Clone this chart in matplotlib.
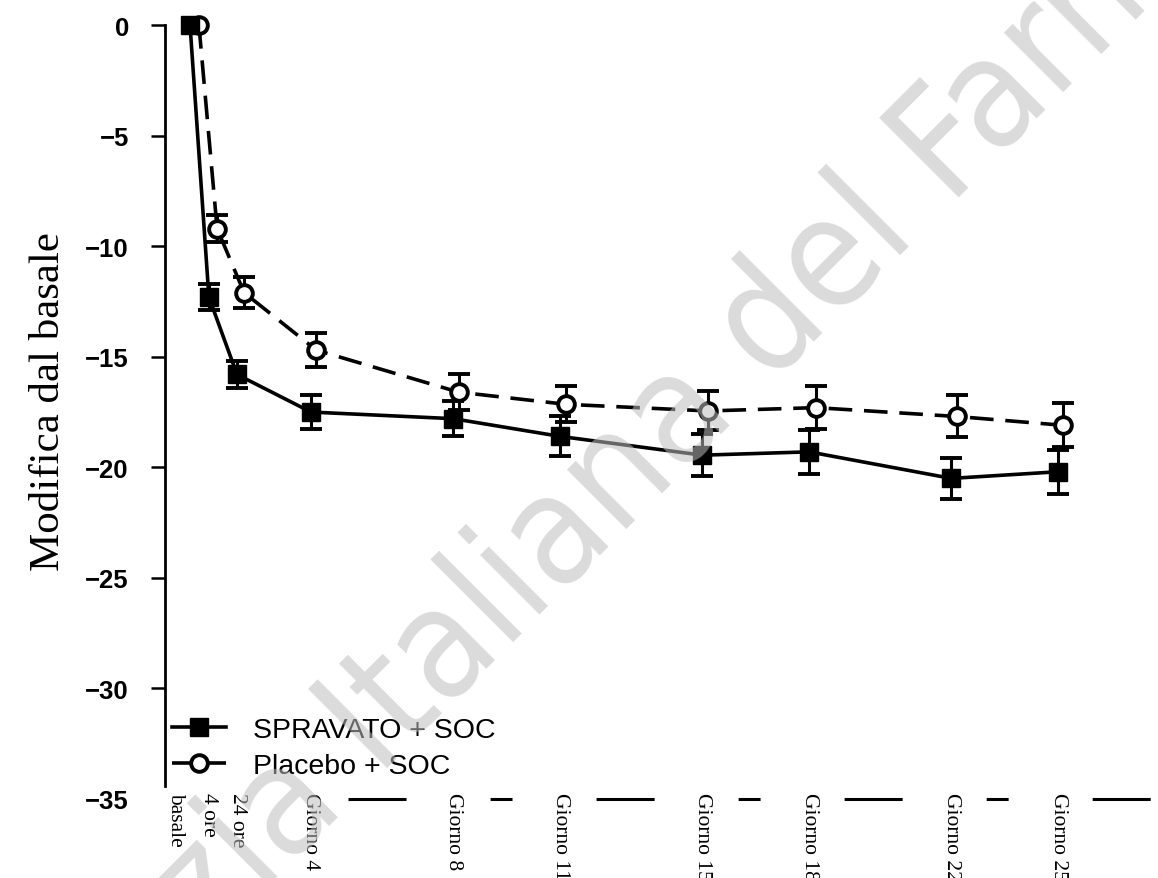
import numpy as np
import matplotlib.pyplot as plt
from matplotlib.transforms import ScaledTranslation

plt.rcParams['lines.scale_dashes'] = False

# visite (etichette asse x)
visite = ['basale', '4 ore', '24 ore', 'Giorno 4', 'Giorno 8', 'Giorno 11',
          'Giorno 15', 'Giorno 18', 'Giorno 22', 'Giorno 25']
# posizione delle visite sull'asse (giorni, le prime allargate come nel grafico)
x_spravato = [0.6, 1.13, 1.92, 4, 8, 11, 15, 18, 22, 25]
x_placebo = [0.85, 1.36, 2.12, 4.15, 8.15, 11.17, 15.17, 18.2, 22.15, 25.15]

# modifica media dal basale e errore standard
spravato = [0, -12.3, -15.8, -17.5, -17.8, -18.6, -19.45, -19.3, -20.5, -20.2]
spravato_se = [0, 0.6, 0.6, 0.75, 0.8, 0.9, 0.95, 1.0, 0.93, 1.0]
placebo = [0, -9.2, -12.1, -14.7, -16.6, -17.15, -17.45, -17.3, -17.7, -18.1]
placebo_se = [0, 0.6, 0.7, 0.77, 0.8, 0.82, 0.88, 0.96, 0.95, 1.0]

y_ticks = [-35, -30, -25, -20, -15, -10, -5, 0]

W, H = 1158, 879
fig = plt.figure(figsize=(W / 100, H / 100), dpi=100)
ax = fig.add_axes([165 / W, 79 / H, 993 / W, 796 / H])

# placebo: barre di errore sotto, poi linea tratteggiata con cerchi vuoti
ax.errorbar(x_placebo[1:], placebo[1:], yerr=placebo_se[1:], fmt='none', ecolor='k',
            elinewidth=2.2, capsize=8, capthick=2.8, zorder=2)
h_plac, = ax.plot(x_placebo, placebo, color='k', lw=2.6, dashes=(17, 8.5),
                  marker='o', ms=12, mfc='white', mec='k', mew=2.8, zorder=3,
                  label='Placebo + SOC')

ax.errorbar(x_spravato[1:], spravato[1:], yerr=spravato_se[1:], fmt='none', ecolor='k',
            elinewidth=2.2, capsize=8, capthick=2.8, zorder=4)
h_sprav, = ax.plot(x_spravato, spravato, color='k', lw=2.6, marker='s', ms=13.5,
                   mfc='k', mec='k', zorder=5, label='SPRAVATO + SOC')

ax.set_xlim(-0.104, 27.81)
ax.set_ylim(-35, 1)

# assi
for s in ['top', 'right', 'bottom']:
    ax.spines[s].set_visible(False)
ax.spines['left'].set_linewidth(2)
ax.spines['left'].set_bounds(-34.4, 0)

ax.set_yticks(y_ticks)
ax.set_yticklabels([str(v) if v == 0 else '\u2212' + str(-v) for v in y_ticks],
                   fontfamily='Liberation Sans', fontweight='bold', fontsize=18.5)
ax.tick_params(axis='y', length=10, width=1.8, pad=16)
ax.yaxis.get_major_ticks()[0].tick1line.set_visible(False)

ax.set_xticks(x_spravato)
ax.set_xticklabels(visite, rotation=270, fontfamily='Liberation Serif', fontsize=15.5)
ax.tick_params(axis='x', length=0, pad=-5)
lab0 = ax.get_xticklabels()[0]
lab0.set_transform(lab0.get_transform() + ScaledTranslation(-0.14, 0, fig.dpi_scale_trans))

# linea spezzata in basso
ax.plot([5.04, ax.get_xlim()[1]], [-35, -35], color='k', lw=2.2,
        dashes=(41.8, 60.5, 15.8, 60.5), clip_on=False)

fig.text(49 / W, 1 - 402 / H, 'Modifica dal basale', rotation=90, fontsize=31,
         fontfamily='Liberation Serif', ha='center', va='center')

ax.legend(handles=[h_sprav, h_plac], loc='center left',
          bbox_to_anchor=(172 / W, 1 - 749 / H), bbox_transform=fig.transFigure,
          frameon=False, prop={'family': 'Liberation Sans', 'size': 20.5},
          handlelength=1.9, handletextpad=0.95, borderpad=0, labelspacing=0.33,
          borderaxespad=0)

# filigrana
fig.text(630 / W, 1 - 465 / H, 'Agenzia Italiana del Farmaco', rotation=45,
         rotation_mode='anchor', ha='center', va='center', fontsize=110,
         fontfamily=['Liberation Sans Narrow', 'DejaVu Sans'], fontstretch='condensed',
         color='#bdbdbd', alpha=0.55, zorder=10)

fig.savefig('out.png', dpi=100)
